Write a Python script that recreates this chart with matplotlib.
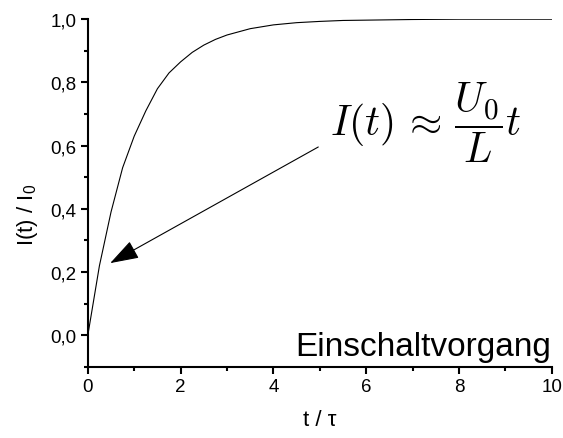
import matplotlib.pyplot as plt
from matplotlib.ticker import MultipleLocator, FuncFormatter

plt.rcParams['font.family'] = ['Liberation Sans', 'DejaVu Sans']
plt.rcParams['mathtext.fontset'] = 'custom'
plt.rcParams['mathtext.rm'] = 'Liberation Sans'
plt.rcParams['mathtext.it'] = 'Liberation Sans'

# Werte
t_werte = [0, 0.25, 0.5, 0.75, 1.0, 1.25, 1.5, 1.75, 2.0, 2.25, 2.5, 2.75, 3.0,
           3.5, 4.0, 4.5, 5.0, 5.5, 6.0, 7.0, 8.0, 9.0, 10.0]
i_werte = [0, 0.22, 0.39, 0.53, 0.63, 0.71, 0.78, 0.83, 0.865, 0.895, 0.918, 0.936, 0.95,
           0.97, 0.982, 0.989, 0.993, 0.996, 0.997, 0.999, 1.0, 1.0, 1.0]

fig = plt.figure(figsize=(5.63, 4.39), dpi=100)
ax = fig.add_axes([0.156, 0.162, 0.824, 0.792])

ax.plot(t_werte, i_werte, color='black', linewidth=0.8)

ax.set_xlim(0, 10)
ax.set_ylim(-0.1, 1.0)

for s in ['top', 'right']:
    ax.spines[s].set_visible(False)
for s in ['left', 'bottom']:
    ax.spines[s].set_linewidth(1.5)

ax.xaxis.set_major_locator(MultipleLocator(2))
ax.xaxis.set_minor_locator(MultipleLocator(1))
ax.yaxis.set_major_locator(MultipleLocator(0.2))
ax.yaxis.set_minor_locator(MultipleLocator(0.1))
ax.yaxis.set_major_formatter(FuncFormatter(lambda v, p: f"{v:.1f}".replace('.', ',')))
ax.tick_params(which='major', direction='out', length=5, width=1.5, labelsize=13.5, pad=3)
ax.tick_params(which='minor', direction='out', length=3, width=1.5)

ax.set_xlabel("t / τ", fontsize=16, labelpad=10)
ax.set_ylabel("I(t) / I$_0$", fontsize=16)
ax.yaxis.set_label_coords(-0.103, 0.44)

# Pfeil und Formel
ax.annotate("", xy=(0.43, 0.224), xytext=(5.02, 0.60),
            arrowprops=dict(arrowstyle='-|>,head_length=1.8,head_width=0.6',
                            color='black', lw=0.8))
ax.text(5.22, 0.676, r"$I(t)\,\approx\,\dfrac{U_0}{L}t$", fontsize=30,
        math_fontfamily='cm', va='center', ha='left')

ax.text(9.98, -0.063, "Einschaltvorgang", fontsize=24, ha='right', va='baseline')

fig.savefig("out.png", dpi=100)
